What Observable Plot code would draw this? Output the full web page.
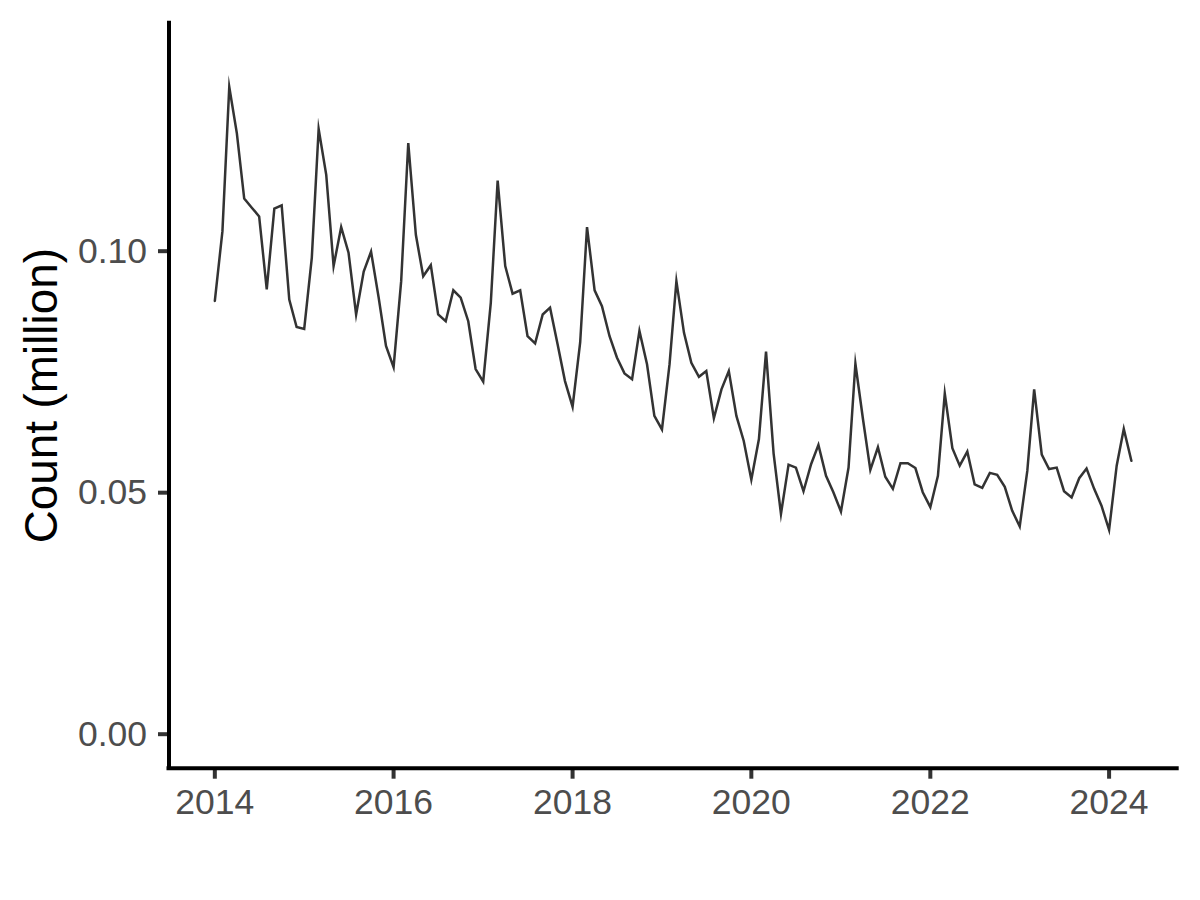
<!DOCTYPE html>
<html>
<head>
<meta charset="utf-8">
<script src="https://cdn.jsdelivr.net/npm/d3@7"></script>
<script src="https://cdn.jsdelivr.net/npm/@observablehq/plot@0.6"></script>
<style>
  html, body { margin: 0; padding: 0; background: #ffffff; }
  #chart { width: 1200px; height: 900px; }
</style>
</head>
<body>
<div id="chart"></div>
<script>
// ---- Data (monthly counts, million), Jan 2014 – Apr 2024 ----
const startYear = 2014;
const startMonth = 0; // January
const counts = [
  // 2014
  0.0897, 0.1041, 0.1340, 0.1244, 0.1109, 0.1090, 0.1072, 0.0921, 0.1088, 0.1095, 0.0900, 0.0843,
  // 2015
  0.0839, 0.0986, 0.1253, 0.1158, 0.0969, 0.1050, 0.0997, 0.0869, 0.0958, 0.0999, 0.0904, 0.0804,
  // 2016
  0.0760, 0.0938, 0.1224, 0.1034, 0.0948, 0.0971, 0.0869, 0.0855, 0.0919, 0.0904, 0.0855, 0.0756,
  // 2017
  0.0730, 0.0893, 0.1146, 0.0969, 0.0912, 0.0919, 0.0824, 0.0809, 0.0869, 0.0883, 0.0807, 0.0731,
  // 2018
  0.0678, 0.0811, 0.1050, 0.0919, 0.0886, 0.0824, 0.0780, 0.0747, 0.0735, 0.0835, 0.0766, 0.0659,
  // 2019
  0.0631, 0.0766, 0.0938, 0.0831, 0.0769, 0.0740, 0.0752, 0.0654, 0.0714, 0.0752, 0.0659, 0.0607,
  // 2020
  0.0527, 0.0611, 0.0792, 0.0581, 0.0456, 0.0558, 0.0552, 0.0503, 0.0559, 0.0599, 0.0535, 0.0501,
  // 2021
  0.0461, 0.0552, 0.0767, 0.0652, 0.0547, 0.0594, 0.0533, 0.0508, 0.0561, 0.0561, 0.0551, 0.0501,
  // 2022
  0.0470, 0.0535, 0.0705, 0.0592, 0.0556, 0.0585, 0.0517, 0.0510, 0.0541, 0.0537, 0.0512, 0.0463,
  // 2023
  0.0430, 0.0545, 0.0714, 0.0579, 0.0549, 0.0552, 0.0503, 0.0490, 0.0530, 0.0550, 0.0508, 0.0473,
  // 2024
  0.0423, 0.0556, 0.0632, 0.0566
];
const xTickYears = [2014, 2016, 2018, 2020, 2022, 2024];
const yTicks = [0, 0.05, 0.10];
const yTitle = "Count (million)";

// ---- Build table ----
const data = counts.map((v, i) => ({
  date: new Date(Date.UTC(startYear, startMonth + i, 1)),
  value: v
}));

// ggplot-like 5% expansion on x
const t0 = data[0].date, t1 = data[data.length - 1].date;
const pad = 0.05 * (t1 - t0);
const xDomain = [new Date(+t0 - pad), new Date(+t1 + pad)];
const yDomain = [-0.00704, 0.1472];

const font = "'Liberation Sans', Arial, Helvetica, sans-serif";

const chart = Plot.plot({
  width: 1200,
  height: 900,
  marginLeft: 168.5,
  marginRight: 23.3,
  marginTop: 22.7,
  marginBottom: 132.3,
  style: { fontFamily: font, background: "#ffffff", overflow: "visible" },
  x: { type: "utc", domain: xDomain },
  y: { domain: yDomain },
  marks: [
    Plot.axisX(xTickYears.map(y => new Date(Date.UTC(y, 0, 1))), {
      tickFormat: d3.utcFormat("%Y"),
      tickSize: 11,
      tickPadding: 10,
      fontSize: 35.5,
      stroke: "#333333",
      strokeWidth: 4,
      fill: "#4d4d4d",
      label: null
    }),
    Plot.axisY(yTicks, {
      tickFormat: d3.format(".2f"),
      tickSize: 10.5,
      tickPadding: 11.5,
      fontSize: 35.5,
      stroke: "#333333",
      strokeWidth: 4,
      fill: "#4d4d4d",
      label: null
    }),
    Plot.lineY(data, {
      x: "date",
      y: "value",
      stroke: "#333333",
      strokeWidth: 2.5,
      strokeLinejoin: "miter",
      strokeMiterlimit: 10
    }),
    Plot.ruleX([xDomain[0]], { stroke: "#000000", strokeWidth: 4, strokeLinecap: "square" }),
    Plot.ruleY([yDomain[0]], { stroke: "#000000", strokeWidth: 4, strokeLinecap: "square" }),
    Plot.text([yTitle], {
      frameAnchor: "left",
      rotate: -90,
      dx: -112.5,
      lineAnchor: "bottom",
      textAnchor: "middle",
      fontSize: 45.8,
      fill: "#000000"
    })
  ]
});

document.getElementById("chart").appendChild(chart);
</script>
</body>
</html>
